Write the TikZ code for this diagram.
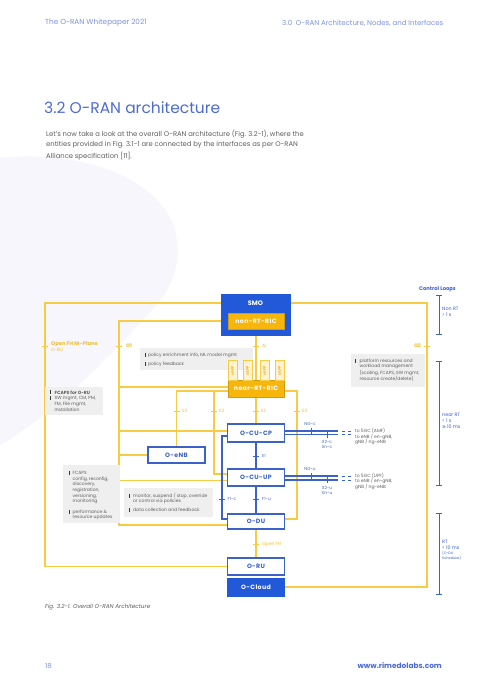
\documentclass[tikz,border=0pt]{standalone}
\usepackage{fontspec}
\setmainfont{Poppins}
\newfontfamily\spaced[LetterSpace=6]{Poppins}
\newfontfamily\dvs{DejaVu Sans}
\usetikzlibrary{arrows.meta}
\definecolor{ylw}{HTML}{F8CB45}
\definecolor{ylwtxt}{HTML}{F2BE2E}
\definecolor{ylwfill}{HTML}{F6B60C}
\definecolor{blu}{HTML}{3B62CB}
\definecolor{blufill}{HTML}{2259D9}
\definecolor{ttl}{HTML}{4D6CD2}
\definecolor{hdr}{HTML}{7F93DA}
\definecolor{txt}{HTML}{5F5F5F}
\definecolor{callout}{HTML}{EFEFEF}
\definecolor{blob}{HTML}{F6F6FC}
\definecolor{xfill}{HTML}{FDF3D3}
\begin{document}
\begin{tikzpicture}[x=1pt,y=-1pt,
  yl/.style={draw=ylw,line width=1.1pt},
  bl/.style={draw=blu,line width=1.1pt},
  ytick/.style={draw=ylw,line width=0.8pt},
  btick/.style={draw=blu,line width=0.8pt},
  boxfont/.style={font=\spaced\bfseries\fontsize{6.2}{7}\selectfont},
  ybox/.style={fill=ylwfill,draw=ylwfill!85!black,line width=0.4pt,text=white,boxfont,inner sep=0pt},
  wbox/.style={fill=white,draw=blu,line width=1.1pt,text=blu,boxfont,inner sep=0pt,minimum width=57pt},
  bbox/.style={fill=blufill,draw=blufill,text=white,boxfont,inner sep=0pt},
  xbox/.style={fill=xfill,draw=ylw,line width=0.8pt,text=ylwfill,font=\bfseries\fontsize{3.6}{4}\selectfont,inner sep=0pt,minimum width=19.5pt,minimum height=9pt,rotate=90},
  cbox/.style={fill=callout,draw=none,inner sep=0pt},
  ctext/.style={anchor=west,inner sep=0pt,text=txt,font=\fontsize{4.5}{4.8}\selectfont},
  ylab/.style={anchor=west,inner sep=0pt,text=ylwtxt,font=\fontsize{4.5}{4.8}\selectfont},
  blab/.style={anchor=west,inner sep=0pt,text=blu!80!gray,font=\fontsize{4.3}{4.5}\selectfont},
  rlab/.style={anchor=west,inner sep=0pt,text=blu,font=\fontsize{4.8}{5}\selectfont},
  bar/.style={fill=txt!60!black},
  hdrfont/.style={anchor=west,inner sep=0pt,text=hdr,font=\fontsize{7}{8}\selectfont},
  para/.style={anchor=west,inner sep=0pt,text=txt,font=\fontsize{6.8}{7.5}\selectfont},
]
\useasboundingbox (0,0) rectangle (489,693);
\fill[white] (0,0) rectangle (489,693);
% background blob
\fill[blob] (0,158) .. controls (70,150) and (150,172) .. (172,222) .. controls (186,258) and (172,290) .. (150,312) .. controls (110,355) and (60,410) .. (0,445) -- cycle;

% header / footer
\node[hdrfont,font=\fontsize{7.3}{8}\selectfont] (h1) at (45,23) {The O-RAN Whitepaper 2021};
\node[hdrfont] (h2) at (282,23) {3.0\ \ O-RAN Architecture, Nodes, and Interfaces};
\node[hdrfont] (f1) at (45,666) {18};
\node[anchor=east,inner sep=0pt,text=ttl,font=\bfseries\fontsize{7.4}{8}\selectfont] (f2) at (442,666) {www.rimedolabs.com};

% title and paragraph
\node[anchor=west,inner sep=0pt,text=ttl,font=\fontsize{15.5}{18}\selectfont] (title) at (44,108) {3.2 O-RAN architecture};
\node[para] (p1) at (46,134) {Let’s now take a look at the overall O-RAN architecture (Fig. 3.2-1), where the};
\node[para] (p2) at (46,145) {entities provided in Fig. 3.1-1 are connected by the interfaces as per O-RAN};
\node[para] (p3) at (46,156) {Alliance specification [11].};

% main nodes (anchors)
\path
 (255.5,314.5) node[bbox,minimum width=69pt,minimum height=41pt] (smo) {}
 (256,321) node[ybox,minimum width=56pt,minimum height=16pt] (nonrt) {}
 (256,388.5) node[ybox,minimum width=56pt,minimum height=17pt] (nearrt) {}
 (256,433) node[wbox,minimum height=18pt] (ocucp) {}
 (256,477.5) node[wbox,minimum height=17pt] (ocuup) {}
 (256,521.5) node[wbox,minimum height=15pt] (odu) {}
 (256,566.5) node[wbox,minimum height=17pt] (oru) {}
 (256,587) node[bbox,minimum width=57pt,minimum height=18pt] (ocloud) {}
 (176.5,455) node[wbox,minimum height=16pt] (oenb) {};

% yellow connectors
\draw[yl] (oru.west) -| (45,303) -- (smo.west |- 0,303);
\draw[yl] (ocloud.east) -| (427,303) -- (smo.east |- 0,303);
\draw[yl] (nonrt.west) -| (119,525) -- (odu.west |- 0,525);
\draw[yl] (119,387) -- (nearrt.west |- 0,387);
\draw[yl] (119,431) -- (ocucp.west |- 0,431);
\draw[yl] (119,455) -- (oenb.west);
\draw[yl] (119,480.5) -- (ocuup.west |- 0,480.5);
\draw[yl] (nonrt.south) -- (nearrt.north);
\draw[yl] (oenb.north) |- (297,391) |- (odu.east |- 0,519);
\draw[yl] (214,391) |- (ocuup.west |- 0,474);
\draw[yl] (nearrt.south) -- (ocucp.north);
\draw[yl] (odu.south) -- (oru.north);

% blue connectors
\draw[bl] (ocucp.south) -- (ocuup.north);
\draw[bl] (ocuup.south) -- (odu.north);
\draw[bl] (ocucp.west |- 0,436) -| (222,519) -- (odu.west |- 0,519);
\coordinate (ngc) at (338,431);
\coordinate (xnc) at (338,434.5);
\coordinate (ngu) at (338,476);
\coordinate (xnu) at (338,480);
\draw[bl] (ocucp.east |- ngc) -- (ngc);
\draw[bl] (ocucp.east |- xnc) -- (xnc);
\draw[bl] (ocuup.east |- ngu) -- (ngu);
\draw[bl] (ocuup.east |- xnu) -- (xnu);
\foreach \yy in {431,434.5,476,480}{
  \draw[bl,line width=1pt] (341.5,\yy) -- (345,\yy);
  \draw[bl,line width=1pt] (347.5,\yy) -- (351,\yy);
}

% gray callouts
\node[cbox,minimum width=113pt,minimum height=22pt] (c1) at (196.5,359) {};
\node[cbox,minimum width=74pt,minimum height=33pt] (c2) at (388,370.5) {};
\node[cbox,minimum width=58pt,minimum height=28pt] (c3) at (73.5,401) {};
\node[cbox,minimum width=57pt,minimum height=58pt] (c4) at (91.5,494) {};
\node[cbox,minimum width=89pt,minimum height=29pt] (c5) at (168.5,502.5) {};

% callout texts
\fill[bar] (144.6,353) rectangle (145.6,357.2);
\fill[bar] (144.6,362) rectangle (145.6,366.2);
\node[ctext] (t11) at (148,355) {policy enrichment info, ML model mgmt};
\node[ctext] (t12) at (148,364) {policy feedback};

\fill[bar] (354.5,359) rectangle (355.5,363.2);
\node[ctext] (t21) at (359.5,361) {platform resources and};
\node[ctext] (t22) at (359.5,366.8) {workload management};
\node[ctext] (t23) at (359.5,372.6) {(scaling, FCAPS, SW mgmt,};
\node[ctext] (t24) at (359.5,378.4) {resource create/delete)};

\fill[bar] (49.6,390.2) rectangle (50.6,394.4);
\fill[bar] (49.6,396.2) rectangle (50.6,400.4);
\node[ctext,font=\bfseries\fontsize{4.5}{4.8}\selectfont] (t31) at (54.5,392.3) {FCAPS for O-RU};
\node[ctext] (t32) at (54.5,398.2) {SW mgmt, CM, PM,};
\node[ctext] (t33) at (54.5,404) {FM, File mgmt,};
\node[ctext] (t34) at (54.5,409.8) {Installation};

\fill[bar] (68.6,471) rectangle (69.6,475.2);
\fill[bar] (68.6,510) rectangle (69.6,514.2);
\node[ctext] (t41) at (72.5,473) {FCAPS};
\node[ctext] (t42) at (72.5,479) {config, reconfig,};
\node[ctext] (t43) at (72.5,484.7) {discovery,};
\node[ctext] (t44) at (72.5,490.4) {registration,};
\node[ctext] (t45) at (72.5,496.1) {versioning,};
\node[ctext] (t46) at (72.5,501.8) {monitoring};
\node[ctext] (t47) at (72.5,512) {performance \&};
\node[ctext] (t48) at (72.5,517.7) {resource updates};

\fill[bar] (128.6,494) rectangle (129.6,498.2);
\fill[bar] (128.6,507.5) rectangle (129.6,511.7);
\node[ctext] (t51) at (133,496) {monitor, suspend / stop, override};
\node[ctext] (t52) at (133,501.8) {or control via policies};
\node[ctext] (t53) at (133,509.6) {data collection and feedback};

% ticks and interface labels (yellow)
\draw[ytick] (42,346) -- (48,346);
\node[ylab,font=\bfseries\fontsize{5.2}{5.5}\selectfont] (lofh) at (51,344) {Open FH M–Plane};
\node[ylab] (lofh2) at (51,349.8) {O-RU};
\draw[ytick] (116,346) -- (122,346);
\node[ylab,font=\bfseries\fontsize{5}{5.5}\selectfont] (lo1) at (126,346) {O1};
\draw[ytick] (253,346) -- (259,346);
\node[ylab] (la1) at (262,346) {A1};
\draw[ytick] (424,346) -- (430,346);
\node[ylab,anchor=east,font=\bfseries\fontsize{5}{5.5}\selectfont] (lo2) at (421,346) {O2};
\foreach \xx in {177,214,256,297}{
  \draw[ytick] (\xx-3,411) -- (\xx+3,411);
  \node[ylab] at (\xx+5,411) {E2};
}
\draw[ytick] (253,544) -- (259,544);
\node[ylab] (lofh3) at (262,544) {Open FH};

% blue ticks and labels
\draw[btick] (253,456) -- (259,456);
\node[blab] (le1) at (262,456) {E1};
\draw[btick] (253,499) -- (259,499);
\node[blab] (lf1u) at (262,499) {F1-u};
\draw[btick] (219,499) -- (225,499);
\node[blab] (lf1c) at (227.5,499) {F1-c};
\draw[btick] (311,428) -- (311,434);
\draw[btick] (327,431.5) -- (327,437.5);
\node[blab,anchor=center] (lngc) at (310,424) {NG-c};
\node[blab,anchor=center] (lx2c) at (327,442) {X2-c};
\node[blab,anchor=center] (lxnc) at (327,447.3) {Xn-c};
\draw[btick] (311,473) -- (311,479);
\draw[btick] (327,477) -- (327,483);
\node[blab,anchor=center] (lngu) at (310,469) {NG-u};
\node[blab,anchor=center] (lx2u) at (327,488) {X2-u};
\node[blab,anchor=center] (lxnu) at (327,493.3) {Xn-u};
\node[ctext] (r11) at (355,431) {to 5GC (AMF)};
\node[ctext] (r12) at (355,436.6) {to eNB / en-gNB,};
\node[ctext] (r13) at (355,442.2) {gNB / ng-eNB};
\node[ctext] (r21) at (355,475.5) {to 5GC (UPF)};
\node[ctext] (r22) at (355,481.1) {to eNB / en-gNB,};
\node[ctext] (r23) at (355,486.7) {gNB / ng-eNB};

% boxes drawn on top
\node[bbox,minimum width=69pt,minimum height=41pt] at (smo) {};
\node[text=white,font=\bfseries\fontsize{6.5}{7}\selectfont,inner sep=0pt] (smot) at (255.5,303) {SMO};
\node[ybox,minimum width=56pt,minimum height=16pt] at (nonrt) {non-RT-RIC};
\node[ybox,minimum width=56pt,minimum height=17pt] at (nearrt) {near-RT-RIC};
\node[xbox] (x1) at (232.5,370.5) {xAPP};
\node[xbox] (x2) at (247.5,370.5) {xAPP};
\node[xbox] (x3) at (264.5,370.5) {xAPP};
\node[xbox] (x4) at (279.5,370.5) {xAPP};
\node[wbox,minimum height=18pt] at (ocucp) {O-CU-CP};
\node[wbox,minimum height=17pt] at (ocuup) {O-CU-UP};
\node[wbox,minimum height=15pt] at (odu) {O-DU};
\node[wbox,minimum height=17pt] at (oru) {O-RU};
\node[bbox,minimum width=57pt,minimum height=18pt] at (ocloud) {O-Cloud};
\node[wbox,minimum height=16pt] at (oenb) {O-eNB};

% control loops
\node[rlab,font=\bfseries\fontsize{5.2}{5.5}\selectfont] (cl) at (419,289) {Control Loops};
\draw[blu,line width=0.9pt,{Bar[width=6pt]}-{Bar[width=6pt]}] (439,295) -- (439,335);
\draw[blu,line width=0.9pt,{Bar[width=6pt]}-{Bar[width=6pt]}] (439,361) -- (439,486);
\draw[blu,line width=0.9pt,{Bar[width=6pt]}-{Bar[width=6pt]}] (439,513) -- (439,595);
\node[rlab] (n1) at (442,309) {Non RT};
\node[rlab] (n2) at (442,315) {> 1 s};
\node[rlab] (n3) at (442,415) {near RT};
\node[rlab] (n4) at (442,421) {< 1 s};
\node[rlab] (n5) at (442,427) {{\dvs ≥}\,10 ms};
\node[rlab] (n6) at (442,542) {RT};
\node[rlab] (n7) at (442,548) {< 10 ms};
\node[rlab,font=\fontsize{3.5}{3.8}\selectfont] (n8) at (442,553.6) {(O-DU};
\node[rlab,font=\fontsize{3.5}{3.8}\selectfont] (n9) at (442,558) {Scheduler)};

% caption
\node[anchor=west,inner sep=0pt,text=txt,font=\itshape\fontsize{5.7}{6}\selectfont] (cap) at (45,607) {Fig. 3.2-1. Overall O-RAN Architecture};
\end{tikzpicture}
\end{document}
